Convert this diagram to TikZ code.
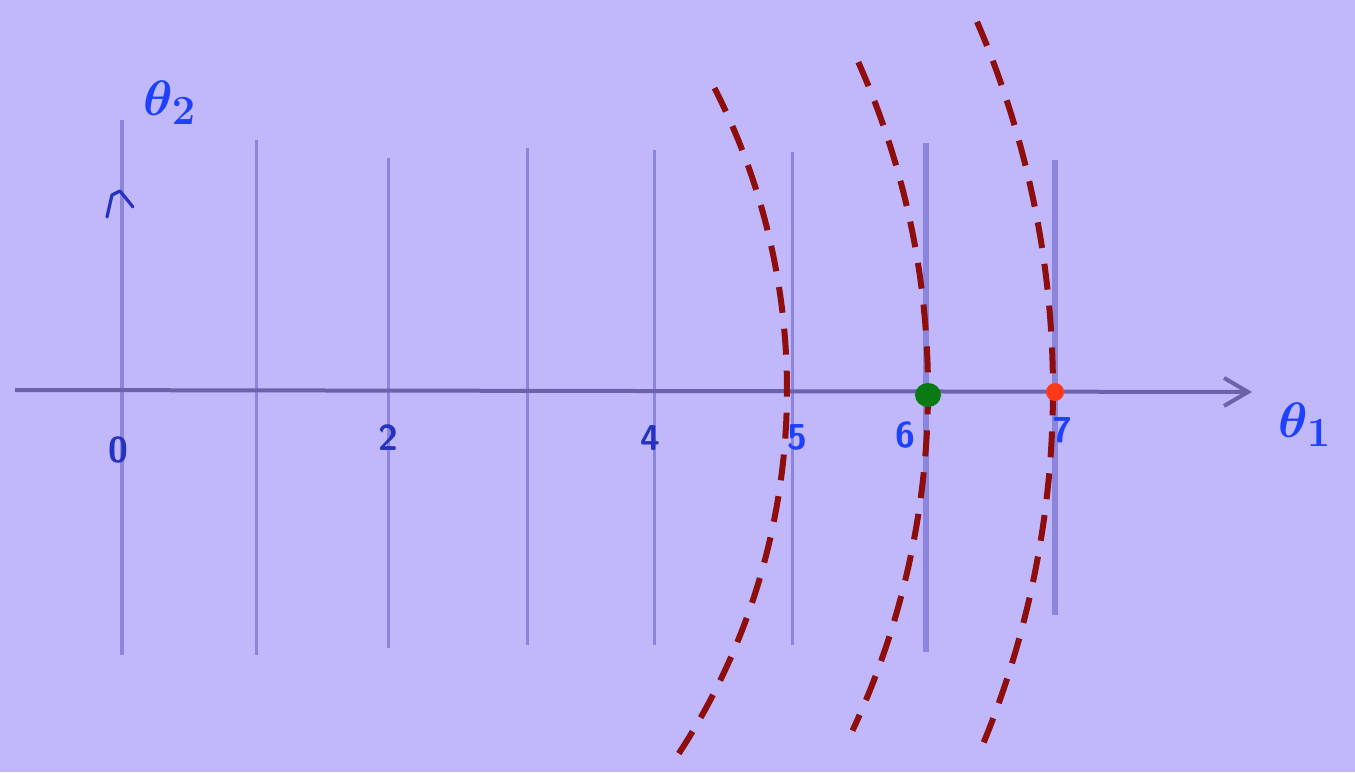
\documentclass[tikz,border=0pt]{standalone}
\usetikzlibrary{arrows.meta}
\definecolor{bg}{HTML}{C0B8FA}
\definecolor{axisc}{HTML}{6A63AC}
\definecolor{gridc}{HTML}{8C85DE}
\definecolor{curvec}{HTML}{8E0E0E}
\definecolor{labc}{HTML}{1E40FF}
\definecolor{labd}{HTML}{2533C0}
\definecolor{ptg}{HTML}{0A7A12}
\definecolor{ptr}{HTML}{FF3A1A}
\begin{document}
\begin{tikzpicture}[x=0.5pt,y=0.5pt,
  vline/.style={gridc, line width=1.5pt},
  thickv/.style={gridc, line width=2.6pt},
  level/.style={curvec, line width=3pt, dash pattern=on 13pt off 8pt},
  lab/.style={font=\sffamily\bfseries\fontsize{18}{18}\selectfont, text=labc, inner sep=0pt},
  labdark/.style={lab, text=labd},
  axlab/.style={text=labc, inner sep=0pt, font=\boldmath\fontsize{31}{31}\selectfont},
]
\fill[bg] (0,0) rectangle (1355,772);
\useasboundingbox (0,0) rectangle (1355,772);
% vertical grid lines
\draw[vline, line width=1.9pt] (122,652) -- (122,117);
\foreach \x/\a/\b in {256/632/117, 388/614/124, 527/624/127, 654/622/127, 792/620/127}
  \draw[vline] (\x,\a) -- (\x,\b);
\draw[thickv] (926,629) -- (926,120);
\draw[thickv] (1055,612) -- (1055,157);
% vertical axis hand-drawn arrow mark
\draw[labd, line width=1.6pt, line cap=round, line join=round] (107,555) -- (112,577) -- (120,581) -- (133,565);
% horizontal axis
\coordinate (xs) at (15,382);
\coordinate (xe) at (1252,380);
\draw[axisc, line width=2pt, -{Straight Barb[length=12pt,width=14pt,line width=2pt]}] (xs) -- (xe);
% level curves
\coordinate (O) at (122,382);
\draw[level] (O) ++(27.0:665) arc[start angle=27.0, end angle=-34.5, radius=665];
\draw[level] (O) ++(24.0:806) arc[start angle=24.0, end angle=-25.0, radius=806];
\draw[level] (O) ++(23.3:931) arc[start angle=23.3, end angle=-23.0, radius=931];
% points
\fill[ptg] (928,377) ellipse[x radius=13, y radius=12];
\fill[ptr] (1055,380) circle[radius=9];
% labels
\node[labdark] (l0) at (118,322) {0};
\node[labdark] (l2) at (388,334) {2};
\node[labdark] (l4) at (650,334) {4};
\node[lab] (l5) at (797,335) {5};
\node[lab] (l6) at (905,337) {6};
\node[lab] (l7) at (1062,342) {7};
\node[axlab] (t2) at (170,669) {$\theta_2$};
\node[axlab] (t1) at (1305,347) {$\theta_1$};
\end{tikzpicture}
\end{document}
